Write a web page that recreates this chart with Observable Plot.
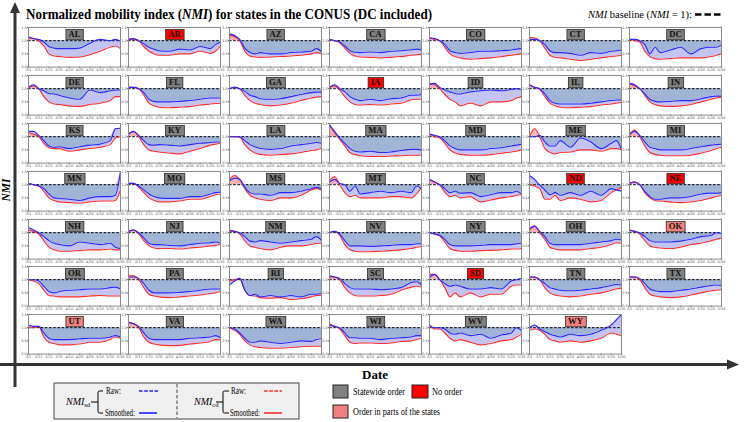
<!DOCTYPE html>
<html><head><meta charset="utf-8">
<script src="https://cdn.jsdelivr.net/npm/d3@7"></script>
<script src="https://cdn.jsdelivr.net/npm/@observablehq/plot@0.6"></script>
<style>
body{margin:0;background:#fff;}
#root{position:relative;width:750px;height:422px;overflow:hidden;font-family:"Liberation Serif",serif;}
#root svg.panel{position:absolute;}
#overlay{position:absolute;left:0;top:0;}
</style></head><body><div id="root"></div>
<script>
// ---------- data ----------
const states = ["AL","AR","AZ","CA","CO","CT","DC",
  "DE","FL","GA","IA","ID","IL","IN",
  "KS","KY","LA","MA","MD","ME","MI",
  "MN","MO","MS","MT","NC","ND","NE",
  "NH","NJ","NM","NV","NY","OH","OK",
  "OR","PA","RI","SC","SD","TN","TX",
  "UT","VA","WA","WI","WV","WY"];
// S = statewide order, N = no order, P = order in parts of the state
const orderType = ["S","N","S","S","S","S","S",
  "S","S","S","N","S","S","S",
  "S","S","S","S","S","S","S",
  "S","S","S","S","S","N","N",
  "S","S","S","S","S","S","P",
  "S","S","S","S","N","S","S",
  "P","S","S","S","S","P"];
const orderLabels = ["Statewide order","No order","Order in parts of the states"];
const days = [0,5,10,15,20,25,30,40,50,60,70,80,85,90]; // days since 3/1
const xTickDays = [0,10,20,30,40,50,60,70,80,90];
const xTickLabels = ["3/1","3/11","3/21","3/31","4/10","4/20","4/30","5/10","5/20","5/30"];
const yTicks = [0,0.5,1,1.5];
const baselineValue = [1];

// smoothed NMI_sd (blue), one row per state
const nmiSd = [
 [1.15,1.08,1.05,0.95,0.78,0.72,0.7,0.7,0.72,0.9,1.05,1.0,1.05,0.98],
 [1.05,1.08,1.0,0.88,0.75,0.68,0.62,0.6,0.68,0.65,0.78,0.7,0.85,0.95],
 [1.25,1.2,1.05,0.72,0.55,0.5,0.55,0.5,0.5,0.55,0.57,0.6,0.7,0.58],
 [1.05,1.0,0.95,0.8,0.62,0.56,0.55,0.57,0.55,0.6,0.62,0.66,0.68,0.65],
 [1.1,1.08,1.0,0.85,0.62,0.55,0.52,0.55,0.6,0.6,0.62,0.65,0.68,0.7],
 [1.05,1.05,1.0,0.85,0.62,0.55,0.55,0.52,0.45,0.55,0.52,0.6,0.62,0.65],
 [1.05,1.05,1.0,0.85,0.5,0.75,0.55,0.65,0.75,0.5,0.7,0.75,0.75,0.85],
 [1.05,1.15,1.0,0.92,0.82,0.8,0.75,0.65,0.6,0.95,0.85,0.92,0.95,0.95],
 [1.05,1.05,1.0,0.85,0.6,0.52,0.5,0.5,0.52,0.55,0.6,0.65,0.65,0.65],
 [1.0,1.05,1.0,0.9,0.75,0.7,0.62,0.6,0.62,0.7,0.78,0.85,0.87,0.88],
 [1.05,1.15,1.0,0.88,0.7,0.6,0.55,0.6,0.55,0.62,0.65,0.75,0.75,0.78],
 [1.15,1.2,1.05,0.95,0.88,0.82,0.8,0.88,0.92,0.95,0.92,0.97,1.0,0.97],
 [1.15,1.05,1.0,0.8,0.55,0.45,0.42,0.42,0.42,0.45,0.5,0.55,0.57,0.58],
 [1.2,1.15,1.0,0.8,0.6,0.52,0.5,0.52,0.55,0.55,0.62,0.7,0.72,0.72],
 [1.2,1.2,1.05,0.85,0.65,0.6,0.62,0.55,0.62,0.68,0.72,0.85,1.3,1.32],
 [1.1,1.2,1.05,0.85,0.7,0.68,0.7,0.68,0.65,0.7,0.75,0.78,0.8,0.8],
 [1.0,1.0,1.0,0.85,0.7,0.62,0.55,0.52,0.55,0.65,0.7,0.75,0.78,0.75],
 [1.45,1.2,0.95,0.75,0.55,0.45,0.42,0.45,0.4,0.42,0.48,0.52,0.52,0.5],
 [1.1,1.05,1.0,0.85,0.65,0.55,0.5,0.5,0.5,0.55,0.58,0.65,0.68,0.72],
 [1.0,1.0,1.05,0.8,0.65,0.65,0.85,0.6,0.95,0.8,0.55,0.75,0.85,0.5],
 [1.1,1.2,1.05,0.8,0.6,0.55,0.5,0.5,0.5,0.55,0.62,0.68,0.7,0.72],
 [1.05,1.0,0.95,0.85,0.65,0.5,0.48,0.45,0.4,0.5,0.55,0.55,0.6,1.5],
 [1.05,1.05,0.95,0.8,0.65,0.55,0.5,0.48,0.48,0.55,0.55,0.65,0.7,0.72],
 [1.15,1.25,1.2,0.9,0.7,0.65,0.65,0.6,0.7,0.7,0.75,0.85,0.9,0.85],
 [1.1,1.2,1.05,1.0,0.75,0.95,0.65,0.7,0.75,0.7,0.75,0.7,0.95,0.85],
 [1.2,1.1,1.0,0.85,0.7,0.75,0.68,0.7,0.55,0.62,0.7,0.7,0.75,0.65],
 [1.35,1.2,0.98,0.8,0.62,0.7,0.6,0.7,0.6,0.75,0.6,0.85,0.8,0.75],
 [1.05,1.1,1.0,0.75,0.55,0.45,0.45,0.5,0.5,0.55,0.65,0.68,0.68,0.7],
 [1.2,1.1,1.0,0.85,0.7,0.6,0.55,0.5,0.65,0.6,0.55,0.6,0.45,0.4],
 [1.05,1.1,1.0,0.8,0.6,0.55,0.55,0.52,0.5,0.55,0.6,0.62,0.65,0.6],
 [1.1,1.05,1.0,0.85,0.68,0.65,0.7,0.65,0.6,0.65,0.7,0.75,0.85,0.7],
 [1.0,1.05,0.95,0.7,0.5,0.5,0.5,0.48,0.5,0.52,0.55,0.55,0.58,0.58],
 [1.0,0.95,0.9,0.75,0.55,0.5,0.5,0.5,0.52,0.55,0.55,0.55,0.58,0.6],
 [1.15,1.25,1.05,0.85,0.6,0.55,0.55,0.55,0.55,0.6,0.65,0.7,0.75,0.72],
 [1.1,1.05,1.0,0.85,0.7,0.65,0.65,0.65,0.68,0.75,0.85,0.9,1.0,0.98],
 [1.0,1.0,0.95,0.75,0.55,0.5,0.55,0.6,0.62,0.65,0.65,0.7,0.72,0.65],
 [1.1,1.1,1.05,0.85,0.6,0.5,0.5,0.5,0.52,0.55,0.6,0.65,0.65,0.65],
 [0.8,0.95,1.05,0.6,0.4,0.45,0.35,0.4,0.35,0.4,0.35,0.45,0.45,0.5],
 [1.15,1.1,1.05,0.85,0.7,0.65,0.65,0.65,0.62,0.65,0.7,0.9,0.92,0.8],
 [1.1,1.2,1.0,0.85,0.75,0.8,0.75,0.65,0.65,0.7,0.65,0.95,1.0,1.05],
 [1.1,1.1,1.0,0.85,0.7,0.65,0.6,0.58,0.6,0.65,0.7,0.78,0.82,0.8],
 [1.1,1.1,1.05,0.85,0.65,0.58,0.55,0.55,0.6,0.65,0.72,0.78,0.8,0.78],
 [1.1,1.05,1.05,0.8,0.6,0.55,0.55,0.55,0.58,0.6,0.6,0.65,0.7,0.65],
 [1.2,1.15,1.05,0.8,0.6,0.55,0.55,0.55,0.55,0.6,0.62,0.65,0.7,0.62],
 [1.0,0.95,0.8,0.6,0.45,0.45,0.5,0.45,0.4,0.45,0.5,0.48,0.55,0.58],
 [1.1,1.05,1.0,0.8,0.62,0.62,0.6,0.6,0.55,0.6,0.62,0.65,0.7,0.7],
 [1.1,1.0,1.0,0.95,0.8,0.75,0.8,0.7,0.75,0.6,0.72,0.8,1.0,0.9],
 [1.0,1.1,0.95,0.85,0.75,0.7,0.65,0.75,0.7,0.75,0.9,1.1,1.3,1.5]
];
// smoothed NMI_cd (red), one row per state
const nmiCd = [
 [1.1,1.08,1.0,0.8,0.5,0.42,0.4,0.37,0.38,0.47,0.6,0.75,0.8,0.7],
 [1.05,1.05,1.0,0.78,0.6,0.5,0.45,0.45,0.5,0.5,0.6,0.52,0.6,0.8],
 [1.2,1.15,1.0,0.6,0.42,0.38,0.37,0.38,0.4,0.42,0.45,0.5,0.55,0.5],
 [1.05,1.0,0.92,0.72,0.52,0.42,0.38,0.37,0.35,0.37,0.4,0.45,0.47,0.48],
 [1.1,1.05,1.0,0.75,0.5,0.4,0.35,0.3,0.32,0.35,0.4,0.45,0.48,0.5],
 [1.12,1.1,1.0,0.72,0.45,0.37,0.35,0.3,0.25,0.3,0.35,0.4,0.42,0.45],
 [1.05,1.0,0.95,0.6,0.4,0.32,0.3,0.32,0.35,0.35,0.35,0.4,0.45,0.5],
 [1.05,1.1,1.0,0.7,0.5,0.42,0.4,0.35,0.33,0.4,0.45,0.55,0.7,0.7],
 [1.05,1.05,1.0,0.75,0.45,0.35,0.3,0.28,0.3,0.32,0.38,0.42,0.44,0.45],
 [1.0,1.05,1.0,0.75,0.55,0.45,0.4,0.35,0.38,0.45,0.55,0.65,0.68,0.7],
 [1.05,1.1,0.95,0.7,0.5,0.4,0.38,0.4,0.38,0.42,0.45,0.58,0.6,0.6],
 [1.2,1.15,1.0,0.78,0.6,0.5,0.35,0.45,0.35,0.5,0.5,0.55,0.65,0.7],
 [1.15,1.05,0.98,0.7,0.45,0.35,0.3,0.28,0.3,0.32,0.38,0.42,0.45,0.48],
 [1.2,1.1,1.0,0.75,0.5,0.4,0.35,0.33,0.35,0.4,0.5,0.6,0.65,0.68],
 [1.15,1.1,1.0,0.75,0.58,0.55,0.55,0.45,0.5,0.55,0.6,0.7,0.95,1.0],
 [1.1,1.2,1.0,0.7,0.5,0.45,0.42,0.38,0.35,0.45,0.55,0.68,0.72,0.75],
 [1.0,1.0,0.98,0.7,0.5,0.38,0.33,0.3,0.32,0.35,0.4,0.48,0.5,0.55],
 [1.45,1.15,0.9,0.65,0.4,0.32,0.28,0.25,0.25,0.27,0.28,0.3,0.3,0.3],
 [1.1,1.0,0.95,0.75,0.5,0.38,0.33,0.3,0.3,0.32,0.37,0.42,0.45,0.5],
 [1.0,1.3,1.0,0.55,0.4,0.35,0.4,0.42,0.5,0.5,0.45,0.55,0.55,0.5],
 [1.05,1.25,1.0,0.65,0.4,0.33,0.3,0.28,0.28,0.3,0.38,0.48,0.55,0.6],
 [1.05,1.0,0.95,0.75,0.5,0.4,0.35,0.32,0.3,0.35,0.38,0.38,0.4,0.8],
 [1.05,1.05,0.9,0.7,0.5,0.4,0.35,0.35,0.38,0.45,0.45,0.55,0.62,0.65],
 [1.2,1.35,1.2,0.85,0.6,0.5,0.45,0.4,0.5,0.5,0.6,0.8,0.85,0.8],
 [1.15,1.3,1.0,0.7,0.55,0.6,0.5,0.5,0.5,0.55,0.55,0.5,0.65,0.9],
 [1.2,1.1,1.0,0.72,0.55,0.6,0.5,0.55,0.35,0.42,0.5,0.55,0.6,0.62],
 [1.0,0.95,0.85,0.45,0.45,0.6,0.4,0.5,0.45,0.35,0.4,0.7,0.8,0.9],
 [1.05,1.1,1.0,0.7,0.5,0.4,0.38,0.35,0.32,0.35,0.4,0.5,0.55,0.6],
 [1.1,1.05,0.95,0.7,0.45,0.35,0.3,0.3,0.32,0.35,0.35,0.38,0.35,0.35],
 [1.05,1.1,0.95,0.7,0.5,0.42,0.4,0.4,0.38,0.42,0.45,0.5,0.52,0.55],
 [1.05,1.05,0.95,0.7,0.5,0.45,0.4,0.35,0.45,0.5,0.5,0.55,0.6,0.6],
 [1.0,1.05,0.9,0.55,0.35,0.3,0.28,0.28,0.3,0.32,0.35,0.4,0.45,0.48],
 [1.0,0.95,0.88,0.65,0.4,0.33,0.3,0.3,0.32,0.33,0.35,0.38,0.38,0.4],
 [1.1,1.25,1.0,0.75,0.45,0.38,0.35,0.35,0.35,0.4,0.45,0.55,0.62,0.6],
 [1.1,1.05,0.95,0.7,0.5,0.45,0.42,0.4,0.45,0.55,0.6,0.7,0.75,0.8],
 [1.0,0.95,0.85,0.6,0.4,0.38,0.35,0.35,0.35,0.38,0.4,0.38,0.38,0.38],
 [1.15,1.15,1.0,0.7,0.45,0.38,0.35,0.32,0.35,0.38,0.42,0.48,0.5,0.55],
 [0.95,1.0,1.05,0.6,0.4,0.38,0.32,0.3,0.32,0.25,0.28,0.35,0.4,0.4],
 [1.1,1.1,1.0,0.7,0.5,0.4,0.38,0.38,0.4,0.45,0.6,0.72,0.75,0.72],
 [1.2,1.2,1.0,0.7,0.35,0.5,0.35,0.5,0.35,0.45,0.45,0.75,0.8,0.8],
 [1.1,1.1,1.0,0.7,0.5,0.42,0.38,0.35,0.38,0.45,0.5,0.6,0.65,0.68],
 [1.1,1.1,1.0,0.7,0.45,0.38,0.35,0.32,0.35,0.42,0.5,0.58,0.6,0.62],
 [1.0,1.0,1.05,0.65,0.45,0.4,0.35,0.35,0.38,0.45,0.45,0.55,0.65,0.6],
 [1.2,1.15,1.0,0.65,0.45,0.38,0.35,0.32,0.33,0.38,0.42,0.48,0.55,0.55],
 [1.0,0.9,0.75,0.5,0.35,0.28,0.25,0.22,0.22,0.25,0.28,0.3,0.3,0.3],
 [1.15,1.05,0.95,0.7,0.45,0.4,0.42,0.42,0.4,0.42,0.48,0.5,0.55,0.6],
 [1.1,0.95,0.95,0.8,0.6,0.5,0.55,0.45,0.35,0.4,0.5,0.55,0.65,0.75],
 [0.9,0.95,0.9,0.75,0.55,0.5,0.45,0.5,0.45,0.5,0.6,0.8,0.75,0.7]
];

// ---------- styling / layout ----------
const C = {
  sdLine: "#2828ff", cdLine: "#ff2a2a",
  below: "#a0b4d8", above: "#f3b0b0", between: "#c4c4f3", betweenRev: "#f6c0c0",
  frame: "#8a8a8a", tick: "#555",
  order: {S: "#808080", N: "#ff0000", P: "#f08080"}
};
const G = {colStart: 28.3, colStep: 100.1, rowStart: 26.7, rowStep: 47.95, panelW: 92, panelH: 39.6, nCols: 7};
const M = {l: 9, r: 3, t: 1, b: 6};

const root = document.getElementById("root");

states.forEach((st, k) => {
  const col = k % G.nCols, row = Math.floor(k / G.nCols);
  const rows = days.map((d, i) => ({day: d, sd: nmiSd[k][i], cd: nmiCd[k][i]}));
  const chart = Plot.plot({
    width: G.panelW + M.l + M.r,
    height: G.panelH + M.t + M.b,
    marginLeft: M.l, marginRight: M.r, marginTop: M.t, marginBottom: M.b,
    style: {fontSize: "3.5px", fontFamily: "DejaVu Sans", color: C.tick, background: "transparent", overflow: "visible"},
    x: {domain: [0, 90], ticks: xTickDays, tickFormat: d => xTickLabels[xTickDays.indexOf(d)], tickSize: 1, tickPadding: 0.8, label: null},
    y: {domain: [0, 1.5], ticks: yTicks, tickFormat: d => d.toFixed(1), tickSize: 1, tickPadding: 0.8, label: null},
    marks: [
      Plot.areaY(rows, {x: "day", y1: 1, y2: d => Math.min(d.sd, 1), fill: C.below, curve: "monotone-x"}),
      Plot.areaY(rows, {x: "day", y1: 1, y2: d => Math.max(d.sd, 1), fill: C.above, curve: "monotone-x"}),
      Plot.areaY(rows, {x: "day", y1: "sd", y2: d => Math.min(d.sd, d.cd), fill: C.between, curve: "monotone-x"}),
      Plot.areaY(rows, {x: "day", y1: "sd", y2: d => Math.max(d.sd, d.cd), fill: C.betweenRev, curve: "monotone-x"}),
      Plot.ruleY(baselineValue, {stroke: "#000", strokeWidth: 1, strokeDasharray: "2.6,1.6"}),
      Plot.lineY(rows, {x: "day", y: "cd", stroke: C.cdLine, strokeWidth: 1.1, curve: "monotone-x"}),
      Plot.lineY(rows, {x: "day", y: "sd", stroke: C.sdLine, strokeWidth: 1.1, curve: "monotone-x"}),
      Plot.frame({stroke: C.frame, strokeWidth: 1}),
      Plot.text([st], {text: d => d, frameAnchor: "top", lineAnchor: "middle", dy: 7,
        fontSize: 8.6, fontWeight: "bold", fontFamily: "Liberation Serif", fill: "#111"})
    ]
  });
  chart.classList.add("panel");
  chart.style.left = (G.colStart + col * G.colStep - M.l) + "px";
  chart.style.top = (G.rowStart + row * G.rowStep - M.t) + "px";
  root.appendChild(chart);
  // draw the label box behind the state name
  const t = chart.querySelector('g[aria-label="text"] text');
  if (t) {
    const bb = t.getBBox();
    const r = document.createElementNS("http://www.w3.org/2000/svg", "rect");
    r.setAttribute("x", bb.x - 2.6);
    r.setAttribute("y", bb.y + 0.1);
    r.setAttribute("width", bb.width + 5.2);
    r.setAttribute("height", bb.height + 0.4);
    r.setAttribute("fill", C.order[orderType[k]]);
    r.setAttribute("stroke", "#2a2a2a");
    r.setAttribute("stroke-width", "0.8");
    if (t.getAttribute("transform")) r.setAttribute("transform", t.getAttribute("transform"));
    t.parentNode.insertBefore(r, t);
  }
});

// ---------- overlay: title, axes arrows, legends ----------
const ns = "http://www.w3.org/2000/svg";
const ov = document.createElementNS(ns, "svg");
ov.setAttribute("id", "overlay");
ov.setAttribute("width", 750); ov.setAttribute("height", 422);
ov.innerHTML = `
<g font-family="Liberation Serif, serif" fill="#000">
  <text x="26" y="19" font-size="15.5" font-weight="bold" textLength="406" lengthAdjust="spacingAndGlyphs">Normalized mobility index (<tspan font-style="italic">NMI</tspan>) for states in the CONUS (DC included)</text>
  <text x="588" y="17.5" font-size="10.5" textLength="104" lengthAdjust="spacingAndGlyphs"><tspan font-style="italic">NMI</tspan> baseline (<tspan font-style="italic">NMI</tspan> = 1):</text>
  <line x1="695" x2="721" y1="14.5" y2="14.5" stroke="#000" stroke-width="2.6" stroke-dasharray="6.5,3"/>

  <line x1="15" y1="387" x2="15" y2="12" stroke="#333" stroke-width="3"/>
  <polygon points="15,2 10,13 20,13" fill="#333"/>
  <line x1="0" y1="364.5" x2="728" y2="364.5" stroke="#333" stroke-width="3"/>
  <polygon points="739,364.5 727,359.5 727,369.5" fill="#333"/>
  <text transform="translate(10,190) rotate(-90)" text-anchor="middle" font-size="11.5" font-weight="bold" font-style="italic">NMI</text>
  <text x="375" y="379" text-anchor="middle" font-size="13" font-weight="bold">Date</text>

  <rect x="54" y="383" width="245" height="36" fill="#f0f0f0" stroke="#444" stroke-width="1"/>
  <line x1="177" x2="177" y1="384" y2="418" stroke="#333" stroke-width="0.9" stroke-dasharray="3.5,2"/>

  <text x="66" y="405" font-size="10"><tspan font-style="italic">NMI</tspan><tspan dy="2" font-size="6.5">sd</tspan></text>
  <path d="M91,402 H98 M103,391 H99.5 Q98,391 98,392.5 V411.5 Q98,413 99.5,413 H103" fill="none" stroke="#000" stroke-width="1"/>
  <text x="106" y="394" font-size="9.5" textLength="15" lengthAdjust="spacingAndGlyphs">Raw:</text>
  <line x1="139" x2="158" y1="391" y2="391" stroke="#1f1fff" stroke-width="1.6" stroke-dasharray="3.6,1.6"/>
  <text x="105" y="415.5" font-size="9.5" textLength="30" lengthAdjust="spacingAndGlyphs">Smoothed:</text>
  <line x1="139" x2="157" y1="413" y2="413" stroke="#1f1fff" stroke-width="1.6"/>

  <text x="194" y="405" font-size="10"><tspan font-style="italic">NMI</tspan><tspan dy="2" font-size="6.5">cd</tspan></text>
  <path d="M216,402 H223 M229,391 H224.5 Q223,391 223,392.5 V411.5 Q223,413 224.5,413 H229" fill="none" stroke="#000" stroke-width="1"/>
  <text x="231" y="394" font-size="9.5" textLength="15" lengthAdjust="spacingAndGlyphs">Raw:</text>
  <line x1="264" x2="282" y1="391" y2="391" stroke="#ff2a2a" stroke-width="1.6" stroke-dasharray="3.6,1.6"/>
  <text x="230" y="415.5" font-size="9.5" textLength="30" lengthAdjust="spacingAndGlyphs">Smoothed:</text>
  <line x1="264" x2="282" y1="413" y2="413" stroke="#ff2a2a" stroke-width="1.6"/>

  <rect x="333" y="385" width="15" height="13" fill="${C.order.S}" stroke="#222" stroke-width="1"/>
  <text x="353" y="395" font-size="11" textLength="52" lengthAdjust="spacingAndGlyphs">${orderLabels[0]}</text>
  <rect x="412" y="385" width="16" height="13" fill="${C.order.N}" stroke="#222" stroke-width="1"/>
  <text x="432" y="395" font-size="11" textLength="30" lengthAdjust="spacingAndGlyphs">${orderLabels[1]}</text>
  <rect x="333" y="405" width="15" height="13" fill="${C.order.P}" stroke="#222" stroke-width="1"/>
  <text x="353" y="415" font-size="11" textLength="87" lengthAdjust="spacingAndGlyphs">${orderLabels[2]}</text>
</g>`;
root.appendChild(ov);
</script></body></html>
